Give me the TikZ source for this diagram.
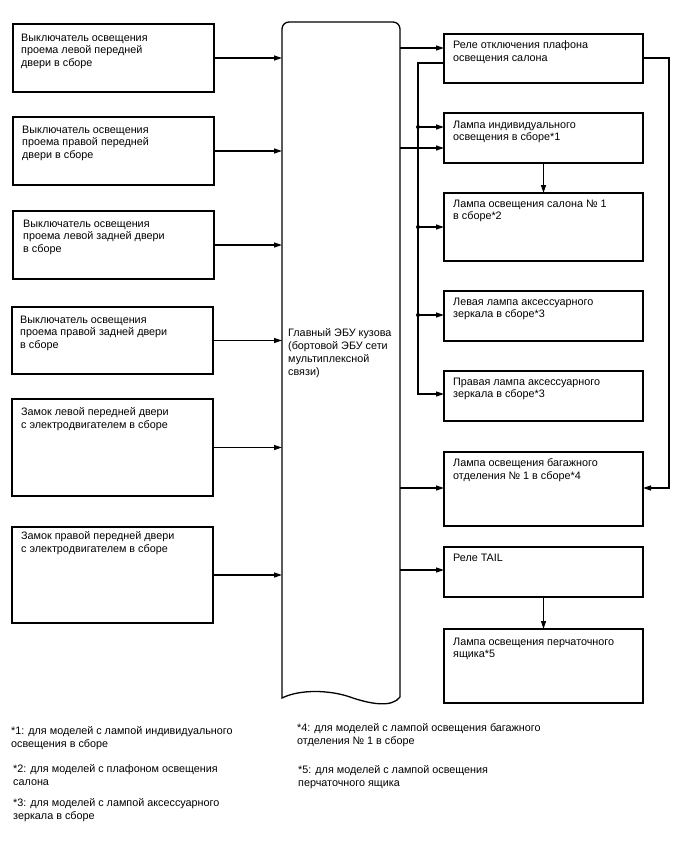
\documentclass[tikz,border=0pt]{standalone}
\usepackage{fontspec}
\setmainfont{Liberation Sans}
\usetikzlibrary{arrows.meta,calc}
\begin{document}
\begin{tikzpicture}[x=1pt,y=-1pt,
  box/.style={draw, line width=1.4pt, inner sep=0pt, outer sep=0pt, anchor=north west},
  lbl/.style={anchor=north west, inner sep=0pt, align=left, font=\fontsize{10.8}{12.8}\selectfont},
  arr/.style={line width=1.2pt, -{Triangle[length=8pt,width=5pt]}},
  ln/.style={line width=1.2pt},
  dot/.style={circle, fill, inner sep=0pt, minimum size=4pt}]
\useasboundingbox (0,0) rectangle (688,852);

% left boxes
\node[box, minimum width=201, minimum height=68] (L1) at (13,24) {};
\node[lbl] (t1) at (21,33.5) {Выключатель освещения\\проема левой передней\\двери в сборе};
\node[box, minimum width=201, minimum height=68] (L2) at (13,117) {};
\node[lbl] (t2) at (22,125.5) {Выключатель освещения\\проема правой передней\\двери в сборе};
\node[box, minimum width=201, minimum height=68] (L3) at (13,211) {};
\node[lbl] (t3) at (23,219.5) {Выключатель освещения\\проема левой задней двери\\в сборе};
\node[box, minimum width=201, minimum height=67] (L4) at (12,307) {};
\node[lbl] (t4) at (20,315.5) {Выключатель освещения\\проема правой задней двери\\в сборе};
\node[box, minimum width=201, minimum height=97] (L5) at (12,399) {};
\node[lbl] (t5) at (21,407.5) {Замок левой передней двери\\с электродвигателем в сборе};
\node[box, minimum width=201, minimum height=96] (L6) at (12,527) {};
\node[lbl] (t6) at (21,531.5) {Замок правой передней двери\\с электродвигателем в сборе};

% central ECU
\node[inner sep=0pt, outer sep=0pt, minimum width=118, minimum height=678, anchor=north west] (C) at (282,22) {};
\draw[line width=1.3pt] ($(C.south west)+(0,-2)$) [rounded corners=7pt] -- (C.north west) -- (C.north east) [sharp corners] -- ($(C.south east)+(0,-3)$)
  .. controls ($(C.south west)+(110,8)$) and ($(C.south west)+(88,4)$) .. ($(C.south west)+(68,-3)$)
  .. controls ($(C.south west)+(48,-10)$) and ($(C.south west)+(18,-11)$) .. ($(C.south west)+(0,-2)$) -- cycle;
\node[lbl] (tc) at (288,328.5) {Главный ЭБУ кузова\\(бортовой ЭБУ сети\\мультиплексной\\связи)};

% right boxes
\node[box, minimum width=199, minimum height=49] (R1) at (444,34) {};
\node[lbl] (r1) at (453,40.5) {Реле отключения плафона\\освещения салона};
\node[box, minimum width=199, minimum height=50] (R2) at (444,113) {};
\node[lbl] (r2) at (453,120.5) {Лампа индивидуального\\освещения в сборе*1};
\node[box, minimum width=199, minimum height=68] (R3) at (444,193) {};
\node[lbl] (r3) at (453,199.5) {Лампа освещения салона № 1\\в сборе*2};
\node[box, minimum width=199, minimum height=50] (R4) at (444,291) {};
\node[lbl] (r4) at (453,297.5) {Левая лампа аксессуарного\\зеркала в сборе*3};
\node[box, minimum width=199, minimum height=50] (R5) at (444,371) {};
\node[lbl] (r5) at (453,377.5) {Правая лампа аксессуарного\\зеркала в сборе*3};
\node[box, minimum width=199, minimum height=74] (R6) at (444,452) {};
\node[lbl] (r6) at (453,458.5) {Лампа освещения багажного\\отделения № 1 в сборе*4};
\node[box, minimum width=199, minimum height=50] (R7) at (444,547) {};
\node[lbl] (r7) at (453,553.5) {Реле TAIL};
\node[box, minimum width=199, minimum height=74] (R8) at (444,629) {};
\node[lbl] (r8) at (453,637.5) {Лампа освещения перчаточного\\ящика*5};

% left connectors
\foreach \n in {L1,L2,L3,L4,L5,L6} \draw[arr] (\n.east) -- (\n.east -| C.west);

% helper coordinates
\coordinate (y48) at (0,48);
\coordinate (y148) at (0,148);
\coordinate (y488) at (0,488);
\coordinate (y570) at (0,570);
\coordinate (y127) at (0,127);
\coordinate (y227) at (0,227);
\coordinate (y315) at (0,315);
\coordinate (y394) at (0,394);
\coordinate (bus) at (418,63);
\coordinate (rb) at (669,58);

% ECU outputs
\draw[arr] (C.east |- y48) -- (R1.west |- y48);
\draw[arr] (C.east |- y148) -- (R2.west |- y148);
\draw[arr] (C.east |- y488) -- (R6.west |- y488);
\draw[arr] (C.east |- y570) -- (R7.west |- y570);

% relay bus
\draw[arr] (R1.west |- bus) -- (bus) -- (bus |- y394) -- (R5.west |- y394);
\draw[arr] (bus |- y127) -- (R2.west |- y127);
\draw[arr] (bus |- y227) -- (R3.west |- y227);
\draw[arr] (bus |- y315) -- (R4.west |- y315);
\node[dot] (d1) at (bus |- y127) {};
\node[dot] (d2) at (bus |- y227) {};
\node[dot] (d3) at (bus |- y315) {};

% relay right loop
\draw[arr] (R1.east |- rb) -- (rb) -- (rb |- y488) -- (R6.east |- y488);

% vertical arrows
\draw[arr] (R2.south) -- (R3.north);
\draw[arr] (R7.south) -- (R8.north);

% footnotes
\node[lbl] (f1) at (11,726.5) {*1: для моделей с лампой индивидуального\\освещения в сборе};
\node[lbl] (f2) at (13,764.5) {*2: для моделей с плафоном освещения\\салона};
\node[lbl] (f3) at (13,798.5) {*3: для моделей с лампой аксессуарного\\зеркала в сборе};
\node[lbl] (f4) at (297,723.5) {*4: для моделей с лампой освещения багажного\\отделения № 1 в сборе};
\node[lbl] (f5) at (298,765.5) {*5: для моделей с лампой освещения\\перчаточного ящика};
\end{tikzpicture}
\end{document}
